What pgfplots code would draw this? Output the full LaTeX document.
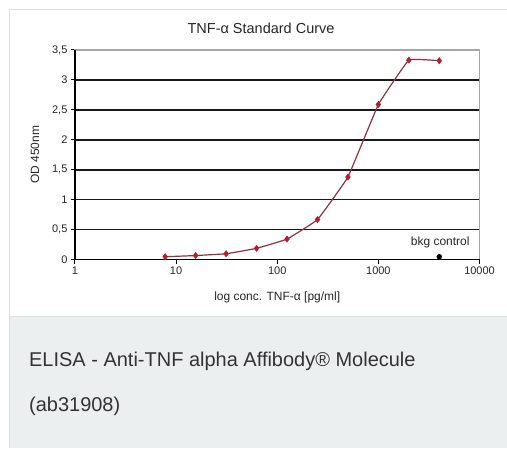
\documentclass[border=0pt]{standalone}
\usepackage{fontspec}
\setmainfont{Liberation Sans}
\usepackage{pgfplots}
\pgfplotsset{compat=1.18}
\definecolor{curve}{RGB}{140,50,65}
\definecolor{dots}{RGB}{180,30,45}
\definecolor{panel}{RGB}{236,239,239}
\definecolor{cardline}{RGB}{222,224,224}
\definecolor{captxt}{RGB}{51,51,51}

\begin{document}
\begin{tikzpicture}[x=1pt,y=1pt]
% card and caption panel, in pixels with y going up
\fill[white] (0,0) rectangle (507,448);
\fill[panel] (9,0) rectangle (507,131);
\draw[cardline, line width=1pt] (9.5,0) -- (9.5,438.5) -- (507,438.5);
\draw[cardline, line width=1pt] (9.5,131.5) -- (507,131.5);
\node[anchor=base west, text=captxt, font=\fontsize{20}{22}\selectfont, inner sep=0pt]
  at (29,81) {ELISA - Anti-TNF alpha Affibody® Molecule};
\node[anchor=base west, text=captxt, font=\fontsize{20}{22}\selectfont, inner sep=0pt]
  at (29,36) {(ab31908)};

\begin{axis}[
    at={(75pt,188pt)}, anchor=origin,
    scale only axis, width=405pt, height=210pt,
    xmode=log, log basis x=10,
    xmin=1, xmax=10000, ymin=0, ymax=3.5,
    xtick={1,10,100,1000,10000},
    xticklabels={1,10,100,1000,10000},
    ytick={0,0.5,1,1.5,2,2.5,3,3.5},
    yticklabels={0,{0,5},1,{1,5},2,{2,5},3,{3,5}},
    minor xtick={},
    tick align=outside, tick pos=left,
    major tick length=4pt,
    tick style={black, line width=1pt},
    axis line style={gray!70, line width=1.2pt},
    ymajorgrids, grid style={black!90, line width=1.4pt},
    tick label style={font=\fontsize{11}{12}\selectfont, text=black!85},
    /pgf/number format/assume math mode=true,
    xlabel={log conc. TNF-α [pg/ml]},
    label style={font=\fontsize{12}{13}\selectfont, text=black!85},
    xlabel style={at={(axis description cs:0.5,0)}, anchor=north, yshift=-29pt},
    title={TNF-α Standard Curve},
    title style={font=\fontsize{14.5}{16}\selectfont, text=black!85, at={(axis description cs:0.46,1)}, anchor=base, yshift=10pt},
    clip=false,
]
\draw[black, line width=1.4pt] (rel axis cs:0,0) -- (rel axis cs:0,1);
\draw[black, line width=1.4pt] (rel axis cs:0,0) -- (rel axis cs:1,0);
\addplot[curve, line width=1.2pt, smooth, tension=0.15,
    mark=diamond*, mark size=3.2pt, mark options={dots, draw=dots, line width=0.4pt}]
coordinates {
    (7.8,0.05)(15.6,0.07)(31.25,0.10)(62.5,0.19)(125,0.345)
    (250,0.67)(500,1.38)(1000,2.59)(2000,3.33)(4000,3.32)
};
\addplot[only marks, mark=*, mark size=2.5pt, black] coordinates {(4000,0.05)};
\node[anchor=south east, font=\fontsize{12}{13}\selectfont, text=black!85, inner sep=0pt]
  at (axis cs:8000,0.2) {bkg control};
\end{axis}
\node[rotate=90, font=\fontsize{12}{13}\selectfont, text=black!85] at (35,293) {OD 450nm};
\end{tikzpicture}
\end{document}
